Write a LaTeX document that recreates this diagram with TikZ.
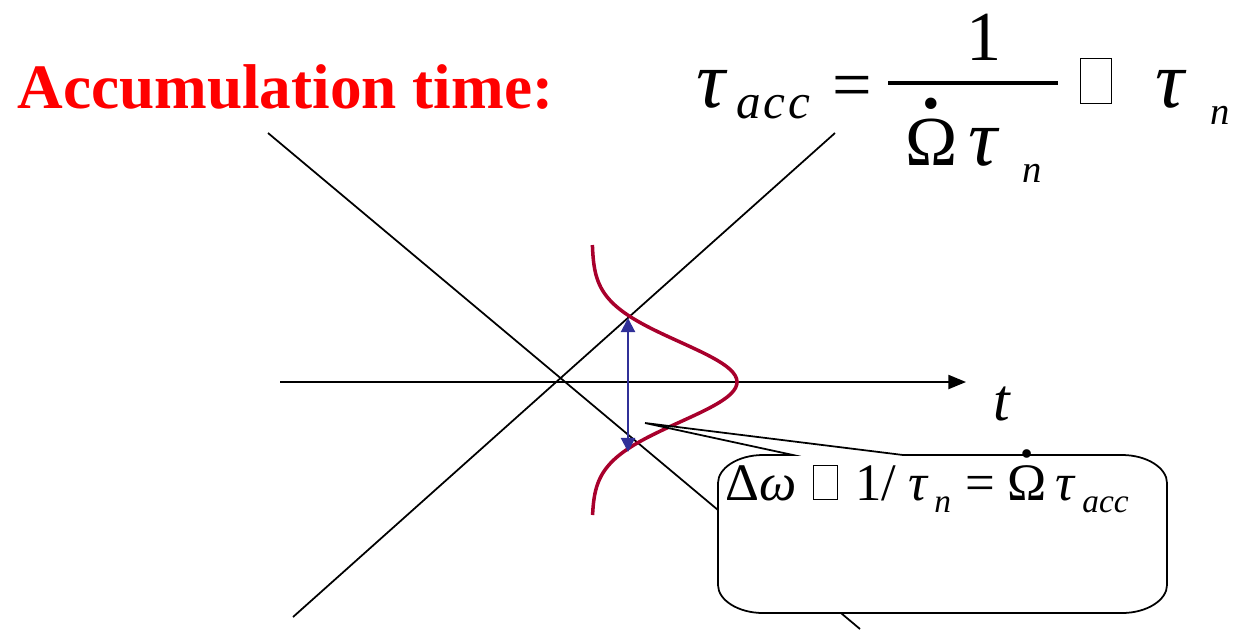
\documentclass[tikz,border=0pt]{standalone}
\usepackage{fontspec}
\setmainfont{Liberation Serif}
\usetikzlibrary{arrows.meta}
\definecolor{curvered}{RGB}{168,0,44}
\definecolor{arrowblue}{RGB}{48,48,152}
% box drawn in place of a glyph that the font lacks
\newcommand\tofu{{\fboxsep=0pt\fboxrule=0.6pt\fbox{\rule{0pt}{0.62em}\hspace{0.42em}}}}
% Omega with a dot above
\newcommand\dotOm{\leavevmode\setbox0\hbox{Ω}\rlap{\hbox to\wd0{\hss\raisebox{0.8em}{\textbf{.}}\hss}}\box0}

\begin{document}
\begin{tikzpicture}[x=0.02cm, y=-0.02cm,
  thinline/.style={line width=1pt},
  gauss/.style={curvered, line width=2pt},
  sym/.style={anchor=base west, inner sep=0pt, font=\fontsize{40}{40}\selectfont},
  bigtau/.style={anchor=base west, inner sep=0pt, font=\fontsize{46}{46}\selectfont\itshape},
  sub/.style={anchor=base west, inner sep=0pt, font=\fontsize{28}{28}\selectfont\itshape},
  smallsub/.style={anchor=base west, inner sep=0pt, font=\fontsize{22}{22}\selectfont\itshape},
  rel/.style={anchor=base west, inner sep=0pt, font=\fontsize{30}{30}\selectfont},
  relsub/.style={anchor=base west, inner sep=0pt, font=\fontsize{19}{19}\selectfont\itshape}]
\useasboundingbox (0,0) rectangle (1236,629);
% title
\node[anchor=base west, inner sep=0pt, text=red, font=\fontsize{36}{36}\selectfont\bfseries] (title) at (17,108) {Accumulation time:};
% crossing lines
\coordinate (d1a) at (268,133);
\coordinate (d1b) at (860,629);
\coordinate (d2a) at (293,617);
\coordinate (d2b) at (835,133);
\draw[thinline] (d1a) -- (d1b);
\draw[thinline] (d2a) -- (d2b);
% time axis
\coordinate (ax0) at (280,382);
\coordinate (ax1) at (966,382);
\draw[thinline, -{Triangle[length=10pt,width=8pt]}] (ax0) -- (ax1);
\node[anchor=base west, inner sep=0pt, font=\fontsize{34}{34}\selectfont\itshape] (tlab) at (993,420) {t};
% line profile
\draw[gauss] plot[domain=245:515, samples=90, smooth] ({592+145*exp(-0.5*((\x-382)/40)*((\x-382)/40))}, \x);
% width
\coordinate (hi) at (628,318);
\coordinate (lo) at (628,452);
\draw[arrowblue, line width=1.2pt, {Triangle[length=8pt,width=8pt]}-{Triangle[length=8pt,width=8pt]}] (hi) -- (lo);
% callout
\coordinate (tip) at (645,423);
\draw[thinline, fill=white] (793,455) -- (tip) -- (903,455) -- (1122,455)
  .. controls (1147,455) and (1167,468) .. (1167,483) -- (1167,585)
  .. controls (1167,600) and (1147,613) .. (1122,613) -- (763,613)
  .. controls (738,613) and (718,600) .. (718,585) -- (718,483)
  .. controls (718,468) and (738,455) .. (763,455) -- cycle;
\node[rel] (dw) at (725,500) {Δ\textit{ω}};
\node[rel] (box2) at (813,499) {\tofu};
\node[rel] (one2) at (855,500) {1/};
\node[rel, font=\fontsize{30}{30}\selectfont\itshape] (tau4) at (908,500) {τ};
\node[relsub] (n4) at (934,512) {n};
\node[rel] (eq2) at (965,500) {=};
\node[rel] (om2) at (1007,500) {\dotOm};
\node[rel, font=\fontsize{30}{30}\selectfont\itshape] (tau5) at (1055,500) {τ};
\node[relsub] (acc2) at (1082,512) {acc};
% formula
\node[bigtau] (tau1) at (696,107) {τ};
\node[sub] (acc1) at (736,118) {a\kern1.5pt c\kern1.5pt c};
\node[sym] (eq1) at (832,108) {=};
\node[sym] (one1) at (966,60) {1};
\draw[line width=2pt] (888,83) -- (1058,83);
\node[sym] (om1) at (905,165) {\dotOm};
\node[bigtau] (tau2) at (968,165) {τ};
\node[smallsub] (n2) at (1022,182) {n};
\node[sym] (box1) at (1080,103) {\tofu};
\node[bigtau] (tau3) at (1155,107) {τ};
\node[smallsub] (n3) at (1210,124) {n};
\end{tikzpicture}
\end{document}
